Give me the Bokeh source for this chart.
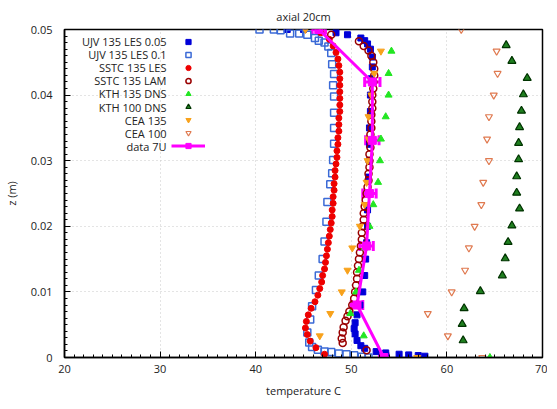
import numpy as np
from bokeh.plotting import figure
from bokeh.models import (ColumnDataSource, Range1d, FixedTicker, Legend, LegendItem,
                          Label, Whisker, TeeHead)
from bokeh.embed import file_html
from bokeh.resources import INLINE

FONT = "Open Sans"

# ---------------- data ----------------
series_names = ["UJV 135 LES 0.05", "UJV 135 LES 0.1", "SSTC 135 LES", "SSTC 135 LAM",
                "KTH 135 DNS", "KTH 100 DNS", "CEA 135", "CEA 100", "data 7U"]

ujv005_T = [43.3, 45.0, 48.4, 49.6, 51.0, 51.4, 51.7, 52.0, 52.2, 52.2, 52.1, 52.0, 52.0, 51.9,
            51.9, 51.9, 51.8, 51.8, 51.7, 51.7, 51.6, 51.5, 51.4, 51.2, 50.9, 50.6, 50.4, 50.3,
            50.4, 50.6, 51.0, 51.4, 52.6, 53.6, 55.0, 56.0, 57.0, 57.7]
ujv005_z = [0.0500, 0.0500, 0.0495, 0.0492, 0.0487, 0.0483, 0.0478, 0.0470, 0.0458, 0.0443,
            0.0425, 0.0400, 0.0375, 0.0350, 0.0325, 0.0300, 0.0275, 0.0250, 0.0225, 0.0200,
            0.0175, 0.0150, 0.0125, 0.0100, 0.0080, 0.0065, 0.0053, 0.0044, 0.0036, 0.0026,
            0.0018, 0.0014, 0.0009, 0.0007, 0.0005, 0.0004, 0.0003, 0.0002]

ujv01_T = [40.4, 41.9, 42.6, 43.6, 44.55, 45.4, 46.2, 46.6, 47.2, 47.6, 47.9, 48.0, 48.2, 48.1,
           48.2, 48.2, 48.2, 48.2, 48.1, 48.0, 47.8, 47.5, 47.4, 47.2, 47.0, 46.6, 46.3, 45.9,
           45.7, 45.4, 45.6, 45.9, 46.5, 47.2, 47.9, 48.7, 49.5, 50.3, 51.1, 51.8]
ujv01_z = [0.0500, 0.0500, 0.0499, 0.0494, 0.0494, 0.0492, 0.0487, 0.0483, 0.0480, 0.0474,
           0.0464, 0.0447, 0.0432, 0.0415, 0.0398, 0.0373, 0.0350, 0.0326, 0.0301, 0.0281,
           0.0264, 0.0237, 0.0207, 0.0177, 0.0150, 0.0125, 0.0103, 0.0078, 0.0058, 0.0038,
           0.0023, 0.0016, 0.0012, 0.0009, 0.00085, 0.0006, 0.0005, 0.00035, 0.0001, 0.0]

sstc_les_T = [46.8, 47.7, 48.1, 48.4, 48.6, 48.7, 48.8, 48.8, 48.8, 48.8, 48.8, 48.8, 48.8,
              48.7, 48.7, 48.7, 48.6, 48.6, 48.5, 48.5, 48.4, 48.3, 48.3, 48.2, 48.2, 48.1,
              48.1, 48.0, 48.0, 47.9, 47.8, 47.7, 47.6, 47.5, 47.4, 47.3, 47.2, 47.0, 46.9,
              46.7, 46.5, 46.2, 45.8, 45.5, 45.3, 45.2, 45.4, 45.7, 46.3, 47.2]
sstc_les_z = [0.0495, 0.0485, 0.0475, 0.0465, 0.0455, 0.0445, 0.0435, 0.0425, 0.0415, 0.0405,
              0.0395, 0.0385, 0.0375, 0.0365, 0.0355, 0.0345, 0.0335, 0.0325, 0.0315, 0.0305,
              0.0295, 0.0285, 0.0275, 0.0265, 0.0255, 0.0245, 0.0235, 0.0225, 0.0215, 0.0205,
              0.0195, 0.0185, 0.0175, 0.0165, 0.0155, 0.0145, 0.0135, 0.0125, 0.0115, 0.0105,
              0.0095, 0.0085, 0.0075, 0.0065, 0.0055, 0.0045, 0.0035, 0.0025, 0.0015, 0.0005]

sstc_lam_T = [47.9, 50.8, 51.3, 51.8, 52.1, 52.3, 52.4, 52.4, 52.3, 52.3, 52.2, 52.2, 52.2,
              52.1, 52.1, 52.1, 52.0, 52.0, 52.0, 51.9, 51.9, 51.9, 51.8, 51.8, 51.7, 51.6,
              51.5, 51.4, 51.3, 51.3, 51.2, 51.1, 51.1, 51.0, 50.9, 50.8, 50.7, 50.6, 50.6,
              50.5, 50.4, 50.3, 50.1, 49.8, 49.6, 49.4, 49.2, 49.1, 49.0, 49.1, 51.6]
sstc_lam_z = [0.0492, 0.0482, 0.0475, 0.0468, 0.0460, 0.0450, 0.0440, 0.0430, 0.0420, 0.0410,
              0.0400, 0.0390, 0.0380, 0.0370, 0.0360, 0.0350, 0.0340, 0.0330, 0.0320, 0.0310,
              0.0300, 0.0290, 0.0280, 0.0270, 0.0260, 0.0250, 0.0240, 0.0230, 0.0220, 0.0210,
              0.0200, 0.0190, 0.0180, 0.0170, 0.0160, 0.0150, 0.0140, 0.0130, 0.0120, 0.0110,
              0.0100, 0.0090, 0.0080, 0.0070, 0.0063, 0.0056, 0.0046, 0.0038, 0.0029, 0.0022,
              0.0011]

kth135_T = [54.2, 53.9, 53.9, 53.6, 53.1, 53.0, 52.8, 52.3, 51.9, 51.4, 50.8, 50.5, 49.9, 51.3, 64.5]
kth135_z = [0.0467, 0.0433, 0.0400, 0.0367, 0.0333, 0.0300, 0.0267, 0.0233, 0.0200, 0.0167,
            0.0133, 0.0100, 0.0067, 0.0033, 0.0]

kth100_T = [66.2, 66.8, 68.4, 68.0, 67.8, 67.6, 67.5, 67.5, 67.3, 67.3, 67.6, 66.8, 66.4, 66.1,
            65.8, 63.5, 61.8, 61.6, 61.7]
kth100_z = [0.0476, 0.0452, 0.0426, 0.0401, 0.0376, 0.0351, 0.0327, 0.0302, 0.0276, 0.0251,
            0.0227, 0.0201, 0.0176, 0.0151, 0.0125, 0.0101, 0.0075, 0.0051, 0.0026]

cea135_T = [45.2, 53.1, 52.4, 52.1, 51.8, 51.8, 51.7, 51.6, 51.4, 50.9, 50.1, 49.6, 49.0, 47.8, 46.7, 56.9]
cea135_z = [0.0500, 0.0467, 0.0433, 0.0400, 0.0367, 0.0333, 0.0300, 0.0267, 0.0233, 0.0200,
            0.0167, 0.0133, 0.0100, 0.0067, 0.0033, 0.0]

cea100_T = [61.5, 65.2, 65.3, 64.9, 64.4, 64.2, 64.4, 63.8, 63.6, 62.9, 62.3, 61.9, 60.5, 58.0, 60.1, 63.7]
cea100_z = [0.0500, 0.0467, 0.0433, 0.0400, 0.0367, 0.0333, 0.0300, 0.0267, 0.0233, 0.0200,
            0.0167, 0.0133, 0.0100, 0.0067, 0.0033, 0.0]

data7u_T = [46.6, 52.2, 52.2, 51.9, 51.6, 50.6, 53.4]
data7u_z = [0.0500, 0.0420, 0.0331, 0.0250, 0.0170, 0.0080, 0.0]
data7u_err = [0.7, 0.8, 0.7, 0.7, 0.7, 0.6, 0.45]

xticks = [20, 30, 40, 50, 60, 70]
xtick_labels = ["20", "30", "40", "50", "60", "70"]
yticks = [0.0, 0.01, 0.02, 0.03, 0.04, 0.05]
ytick_labels = ["0", "0.01", "0.02", "0.03", "0.04", "0.05"]

# ---------------- figure ----------------
FW, FH = 478, 328
p = figure(frame_width=FW, frame_height=FH, min_border_left=58, min_border_right=5,
           min_border_top=23, min_border_bottom=42,
           x_range=Range1d(20, 70), y_range=Range1d(0, 0.05),
           output_backend="svg", toolbar_location=None,
           title="axial 20cm", x_axis_label="temperature C", y_axis_label="z (m)")

p.title.align = "center"
p.title.text_font = FONT
p.title.text_font_style = "normal"
p.title.text_font_size = "11px"
p.title.text_color = "#222222"
p.title.standoff = 12

p.outline_line_color = "black"
p.outline_line_width = 1.5
p.outline_line_alpha = 1.0

xt = FixedTicker(ticks=xticks, minor_ticks=[round(v, 3) for v in np.arange(20, 70.001, 1.0)])
yt = FixedTicker(ticks=yticks, minor_ticks=[round(v, 4) for v in np.arange(0, 0.05001, 0.001)])
p.xaxis.ticker = xt
p.yaxis.ticker = yt
p.xgrid.ticker = xt
p.ygrid.ticker = yt
p.xaxis.major_label_overrides = {t: l for t, l in zip(xticks, xtick_labels)}
p.yaxis.major_label_overrides = {t: l for t, l in zip(yticks, ytick_labels)}

for ax in (p.xaxis, p.yaxis):
    ax.axis_line_color = "black"
    ax.axis_line_width = 1.5
    ax.major_tick_in = 6
    ax.major_tick_out = 0
    ax.minor_tick_in = 3
    ax.minor_tick_out = 0
    ax.major_tick_line_color = "black"
    ax.minor_tick_line_color = "black"
    ax.major_label_text_font = FONT
    ax.major_label_text_font_size = "11px"
    ax.major_label_text_color = "#222222"
    ax.axis_label_text_font = FONT
    ax.axis_label_text_font_size = "11px"
    ax.axis_label_text_font_style = "normal"
    ax.axis_label_text_color = "#222222"
p.xaxis.major_label_standoff = 7
p.xaxis.axis_label_standoff = 7
p.yaxis.major_label_standoff = 12
p.yaxis.axis_label_standoff = 9

p.grid.grid_line_color = "#c8c8c8"
p.grid.grid_line_dash = "1 3"
p.grid.grid_line_width = 1

# ---------------- glyphs ----------------
r1 = p.scatter(ujv005_T, ujv005_z, marker="square", size=6, fill_color="#0000d8",
               line_color="#0000d8")
r2 = p.scatter(ujv01_T, ujv01_z, marker="square", size=7, fill_color=None,
               line_color="#3b6ad6", line_width=1.5)
r3 = p.scatter(sstc_les_T, sstc_les_z, marker="circle", size=6, fill_color="#ee0000",
               line_color="#ee0000")
r4 = p.scatter(sstc_lam_T, sstc_lam_z, marker="circle", size=7, fill_color=None,
               line_color="#990000", line_width=1.5)
r5 = p.scatter(kth135_T, kth135_z, marker="triangle", size=7, fill_color="#22e622",
               line_color="#22e622")
r6 = p.scatter(kth100_T, kth100_z, marker="triangle", size=8, fill_color="#1f7f1f",
               line_color="#003300", line_width=1.2)
r7 = p.scatter(cea135_T, cea135_z, marker="inverted_triangle", size=7, fill_color="#f8a21c",
               line_color="#f8a21c")
r8 = p.scatter(cea100_T, cea100_z, marker="inverted_triangle", size=7, fill_color=None,
               line_color="#e07a50", line_width=1.2)

src7 = ColumnDataSource(dict(
    T=data7u_T, z=data7u_z,
    lo=[t - e for t, e in zip(data7u_T, data7u_err)],
    hi=[t + e for t, e in zip(data7u_T, data7u_err)]))
r9l = p.line("T", "z", source=src7, line_color="#ff00ff", line_width=3)
wh = Whisker(base="z", lower="lo", upper="hi", dimension="width", source=src7,
             line_color="#ff00ff", line_width=3,
             lower_head=TeeHead(size=10, line_color="#ff00ff", line_width=3),
             upper_head=TeeHead(size=10, line_color="#ff00ff", line_width=3))
p.add_layout(wh)
r9s = p.scatter("T", "z", source=src7, marker="square", size=8, fill_color="#ff00ff",
                line_color="#ff00ff")

# ---------------- legend (gnuplot style: text right-aligned, symbol after it) ----------------
renderers = [[r1], [r2], [r3], [r4], [r5], [r6], [r7], [r8], [r9l, r9s]]
ROW = 13.1
items = [LegendItem(label="", renderers=rs) for rs in renderers]
legend = Legend(items=items, location=(107, FH - 5.5 - ROW * len(items)),
                glyph_width=34, glyph_height=13, label_height=13, label_width=0,
                spacing=0, padding=0, margin=0, label_text_font_size="6px",
                label_standoff=0, border_line_alpha=0, background_fill_alpha=0)
p.add_layout(legend)

for i, name in enumerate(series_names):
    p.add_layout(Label(x=102, y=FH - 12 - ROW * i, x_units="screen", y_units="screen",
                       text=name, text_align="right", text_baseline="middle",
                       text_font=FONT, text_font_size="11px", text_color="#222222"))

open("out.html", "w").write(file_html(p, INLINE))
